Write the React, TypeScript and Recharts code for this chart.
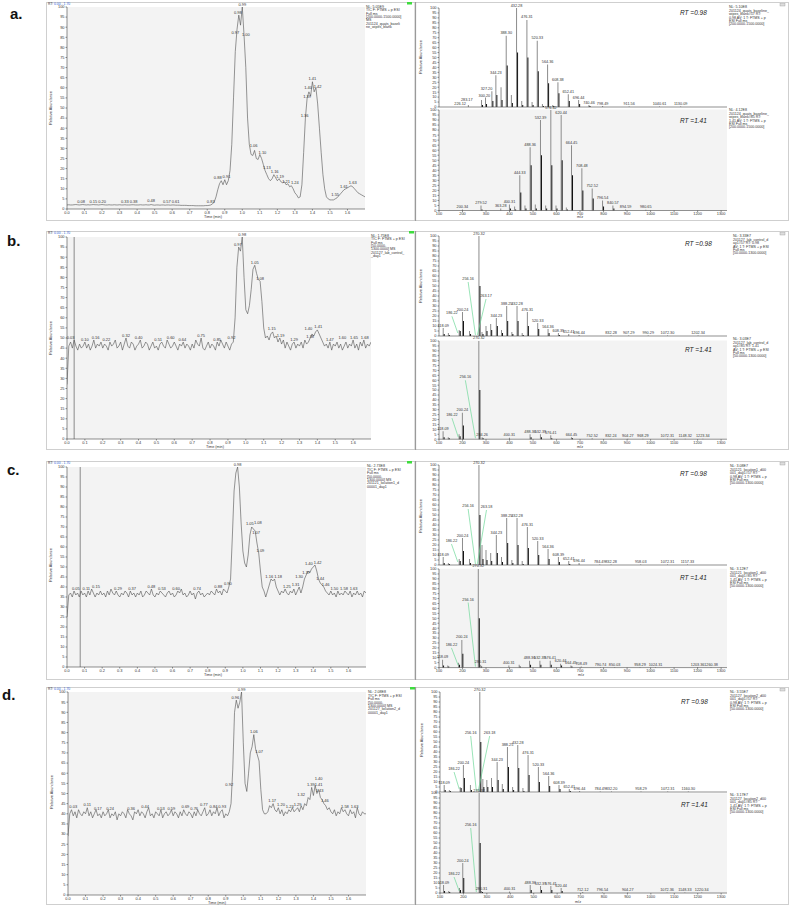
import React from 'react';
import { LineChart, ComposedChart, Line, Bar, XAxis, YAxis, ReferenceDot, ReferenceLine, LabelList } from 'recharts';

const FONT = '"Liberation Sans", Arial, sans-serif';
const STEP = 0.01;

// ---------- tick labels ----------
const X_TICKS = [0, 0.1, 0.2, 0.3, 0.4, 0.5, 0.6, 0.7, 0.8, 0.9, 1.0, 1.1, 1.2, 1.3, 1.4, 1.5, 1.6];
const PCT_TICKS = [0, 5, 10, 15, 20, 25, 30, 35, 40, 45, 50, 55, 60, 65, 70, 75, 80, 85, 90, 95, 100];
const MZ_TICKS = [100, 200, 300, 400, 500, 600, 700, 800, 900, 1000, 1100, 1200, 1300];

// ---------- chromatograms (relative abundance every 0.01 min) ----------
const chromA = [
  2.0, 2.1, 2.0, 2.0, 2.1, 2.2, 2.1, 2.0, 2.1, 2.2,
  2.1, 2.0, 2.1, 2.0, 2.1, 2.2, 2.1, 2.1, 2.0, 2.1,
  2.2, 2.1, 2.0, 2.0, 2.1, 2.0, 2.0, 2.1, 2.0, 2.0,
  2.1, 2.0, 2.0, 2.1, 2.0, 2.0, 2.0, 2.1, 2.1, 2.0,
  2.0, 2.0, 2.1, 2.0, 2.0, 2.1, 2.0, 2.0, 2.2, 2.0,
  1.9, 2.0, 2.0, 1.9, 2.0, 2.0, 1.9, 2.0, 2.0, 1.9,
  2.0, 2.0, 1.9, 1.9, 1.9, 1.8, 1.8, 1.8, 1.8, 1.7,
  1.7, 1.7, 1.7, 1.6, 1.6, 1.6, 1.6, 1.6, 1.6, 1.7,
  1.7, 1.8, 2.0, 2.5, 3.5, 6, 9.5, 12.5, 14, 12,
  14.5, 12, 14, 19, 32, 55, 78, 89, 96, 91,
  100, 86, 70, 45, 32, 27, 26.5, 29, 25, 24.5,
  27, 25, 22, 19, 17, 15, 14, 15, 17, 15.5,
  14, 15, 13.5, 13, 13.5, 12, 12.5, 11, 11.5, 10,
  8, 7, 5.5, 6, 12, 28, 45, 55, 58, 56,
  63, 58, 60, 52, 40, 28, 17, 10, 6, 5,
  4.5, 4.5, 4.5, 5, 5.5, 6.5, 7.5, 8.5, 9.5, 10,
  10.5, 11, 11.5, 11, 10, 9, 8, 7.5, 7, 6.5, 6,
];
const chromB = [
  27, 46, 48, 45, 49, 46, 44, 47, 45, 46,
  48, 45, 47, 44, 46, 49, 45, 47, 46, 48,
  45, 47, 46, 44, 48, 46, 47, 49, 45, 46,
  48, 44, 47, 50, 46, 45, 48, 47, 44, 46,
  47, 49, 45, 46, 48, 47, 44, 46, 48, 45,
  46, 44, 47, 48, 46, 45, 49, 47, 45, 46,
  48, 46, 44, 47, 46, 48, 45, 47, 46, 44,
  47, 45, 49, 47, 46, 50, 45, 44, 46, 48,
  45, 47, 46, 44, 48, 46, 49, 47, 45, 48,
  46, 44, 47, 48, 60, 85, 95, 93, 100, 80,
  64, 62, 66, 74, 84, 86, 82, 79, 78, 68,
  55, 50, 51, 49, 52, 53, 50, 51, 48, 50,
  47, 49, 45, 48, 46, 44, 47, 48, 45, 47,
  46, 48, 45, 49, 47, 48, 50, 52, 51, 53,
  54, 52, 50, 48, 46, 47, 45, 48, 44, 47,
  46, 48, 45, 47, 44, 46, 48, 45, 47, 46,
  49, 45, 47, 44, 48, 46, 49, 45, 47, 46, 48,
];
const chromC = [
  25, 36, 37, 35, 38, 36, 37, 35, 38, 36,
  37, 35, 38, 36, 39, 37, 35, 37, 36, 38,
  36, 37, 35, 38, 36, 39, 37, 36, 38, 36,
  35, 37, 36, 38, 37, 35, 38, 36, 37, 35,
  37, 36, 38, 35, 36, 38, 37, 36, 39, 36,
  35, 37, 36, 38, 37, 36, 35, 37, 38, 36,
  37, 35, 36, 38, 37, 39, 36, 37, 35, 36,
  38, 36, 37, 34, 37, 38, 36, 37, 35, 36,
  37, 36, 38, 37, 36, 39, 37, 38, 36, 39,
  38, 37, 40, 44, 65, 88, 97, 100, 90, 72,
  58, 52, 50, 56, 66, 70, 69, 68, 62, 57,
  48, 40, 38, 35, 38, 41, 44, 43, 44, 40,
  38, 36, 38, 37, 39, 37, 36, 38, 37, 39,
  36, 38, 40, 37, 40, 44, 46, 48, 47, 49,
  50, 51, 48, 44, 42, 41, 40, 38, 37, 36,
  38, 36, 37, 35, 38, 36, 37, 36, 38, 37,
  36, 38, 35, 37, 36, 38, 36, 37, 35, 38, 37,
];
const chromD = [
  29, 40, 42, 39, 41, 38, 42, 40, 39, 41,
  40, 43, 39, 41, 38, 40, 42, 39, 40, 38,
  41, 39, 40, 42, 38, 40, 39, 41, 37, 40,
  39, 41, 40, 38, 42, 40, 39, 37, 41, 40,
  42, 39, 41, 40, 38, 41, 43, 39, 40, 38,
  41, 40, 39, 42, 38, 40, 41, 39, 40, 42,
  39, 41, 40, 38, 41, 39, 42, 40, 39, 41,
  40, 38, 41, 39, 42, 40, 39, 41, 43, 39,
  40, 42, 39, 41, 40, 43, 39, 41, 42, 38,
  40, 39, 41, 45, 62, 90, 96, 92, 95, 100,
  75, 55, 51, 60, 70, 73, 79, 72, 69, 66,
  52, 42, 40, 40, 41, 44, 43, 45, 42, 41,
  43, 40, 42, 39, 41, 40, 42, 41, 43, 41,
  42, 43, 41, 44, 42, 45, 44, 48, 47, 53,
  49, 54, 50, 52, 48, 47, 45, 44, 42, 43,
  41, 40, 42, 39, 41, 40, 43, 41, 42, 40,
  39, 42, 40, 41, 38, 43, 40, 39, 41, 40, 40,
];

// peak labels: [time, abundance, text]
type Lab = [number, number, string];
const chromALabels: Lab[] = [
  [0.08, 2.3, '0.08'], [0.15, 2.3, '0.15'], [0.2, 2.3, '0.20'], [0.33, 2.3, '0.33'], [0.38, 2.3, '0.38'],
  [0.48, 2.5, '0.48'], [0.57, 2.3, '0.57'], [0.62, 2.2, '0.61'], [0.82, 2.3, '0.83'], [0.86, 14, '0.88'],
  [0.91, 14.5, '0.91'], [0.96, 86, '0.97'], [0.975, 96, '0.98'], [1.0, 100, '0.99'], [1.02, 85, '1.00'],
  [1.065, 30, '1.06'], [1.115, 26.5, '1.10'], [1.14, 19, '1.13'], [1.185, 17, '1.16'], [1.215, 14.5, '1.19'],
  [1.25, 12, '1.21'], [1.3, 11.5, '1.24'], [1.355, 45, '1.36'], [1.37, 54, '1.39'], [1.375, 58.5, '1.40'],
  [1.4, 63, '1.41'], [1.43, 59, '1.42'], [1.53, 5.5, '1.55'], [1.58, 9.5, '1.61'], [1.63, 11.5, '1.63'],
];
const chromBLabels: Lab[] = [
  [0.02, 49, '0.03'], [0.1, 48, '0.10'], [0.16, 49, '0.16'], [0.22, 48, '0.22'], [0.33, 50, '0.32'],
  [0.4, 49, '0.40'], [0.51, 48, '0.51'], [0.58, 49, '0.60'], [0.645, 48, '0.64'], [0.75, 50, '0.75'],
  [0.84, 48, '0.85'], [0.92, 49, '0.92'], [0.955, 95, '0.97'], [0.98, 100, '0.98'], [1.05, 86, '1.05'],
  [1.08, 78, '1.08'], [1.145, 53, '1.15'], [1.195, 50, '1.19'], [1.27, 48, '1.29'], [1.35, 53, '1.40'],
  [1.36, 49.5, '1.38'], [1.405, 54, '1.41'], [1.47, 48, '1.47'], [1.54, 49, '1.60'], [1.605, 49, '1.65'], [1.665, 49, '1.68'],
];
const chromCLabels: Lab[] = [
  [0.05, 38, '0.05'], [0.11, 38, '0.11'], [0.165, 39, '0.15'], [0.29, 38, '0.29'], [0.37, 38, '0.37'],
  [0.48, 39, '0.48'], [0.54, 38, '0.53'], [0.62, 38, '0.60'], [0.74, 38, '0.74'], [0.86, 39, '0.88'],
  [0.915, 40.5, '0.90'], [0.97, 100, '0.98'], [1.04, 70.5, '1.05'], [1.085, 71, '1.08'], [1.075, 66, '1.07'],
  [1.1, 57, '1.09'], [1.15, 44, '1.16'], [1.2, 44, '1.18'], [1.25, 39, '1.25'], [1.3, 40, '1.31'],
  [1.32, 44, '1.30'], [1.36, 46, '1.37'], [1.375, 50.5, '1.40'], [1.425, 51, '1.42'], [1.44, 43, '1.44'],
  [1.47, 40, '1.46'], [1.52, 38, '1.50'], [1.575, 38, '1.58'], [1.63, 38, '1.63'],
];
const chromDLabels: Lab[] = [
  [0.03, 42, '0.03'], [0.11, 43, '0.11'], [0.17, 41, '0.17'], [0.24, 41, '0.24'], [0.36, 41, '0.36'],
  [0.44, 42, '0.44'], [0.53, 41, '0.53'], [0.59, 41, '0.59'], [0.67, 42, '0.69'], [0.72, 41, '0.76'],
  [0.775, 43, '0.77'], [0.83, 42, '0.84'], [0.88, 42, '0.93'], [0.92, 53, '0.92'], [0.955, 96, '0.96'],
  [0.99, 100, '0.99'], [1.06, 79, '1.06'], [1.09, 69, '1.07'], [1.165, 45, '1.17'], [1.215, 43, '1.20'],
  [1.265, 42, '1.23'], [1.31, 43, '1.29'], [1.33, 48, '1.32'], [1.385, 53, '1.39'], [1.43, 56, '1.40'],
  [1.43, 53, '1.41'], [1.435, 50, '1.43'], [1.465, 45, '1.46'], [1.58, 42, '1.58'], [1.635, 42, '1.63'],
];

// ---------- mass spectra ----------
// row a, RT 0.98
const aTopMz = [227, 283, 300, 327, 344, 366, 388, 410, 432, 454, 476, 498, 520, 542, 564, 586, 608, 652, 696, 740, 798, 911, 1040, 1130];
const aTopInt = [2, 7, 9.5, 16, 32, 20, 72, 12, 100, 6, 88, 5, 67, 3, 43, 2, 25, 13, 7, 2, 1, 0.6, 0.5, 0.5];
const aTopIso = [0, 2, 3, 6, 12, 7, 42, 4, 55, 2, 50, 2, 36, 1, 24, 1, 14, 6, 3, 1, 0, 0, 0, 0];
const aTopLbl = ['', '', '', '', '344.23', '', '388.30', '', '432.28', '', '476.31', '', '520.33', '', '564.36', '', '608.38', '652.41', '696.44', '740.46', '798.49', '911.56', '1040.61', '1130.09'];
// row a, RT 1.41
const aBotMz = [200, 279, 363, 400, 422, 444, 466, 488, 510, 532, 554, 576, 598, 620, 642, 664, 708, 752, 796, 840, 894, 980];
const aBotInt = [1, 5, 2, 6, 4, 35, 5, 63, 6, 90, 5, 100, 5, 95, 3, 65, 42, 22, 10, 5, 1, 0.7];
const aBotIso = [0, 1, 0, 2, 1, 18, 2, 45, 2, 55, 2, 45, 2, 50, 1, 35, 20, 12, 4, 2, 0, 0];
const aBotLbl = ['200.34', '279.52', '363.28', '400.31', '', '444.33', '', '488.36', '', '532.39', '', '576.42', '', '620.44', '', '664.45', '708.48', '752.52', '796.54', '840.57', '894.59', '980.65'];

// row b
const bTopMz = [118, 140, 186, 200, 230, 270, 283, 300, 320, 344, 366, 388, 410, 432, 454, 476, 520, 564, 608, 652, 696, 832, 907, 990, 1072, 1202];
const bTopInt = [8, 3, 6, 24, 5, 100, 4, 10, 12, 18, 6, 30, 4, 30, 3, 24, 13, 7, 3, 2, 1, 0.5, 0.5, 0.5, 0.5, 0.5];
const bTopIso = [2, 1, 5, 15, 2, 50, 2, 5, 6, 10, 3, 15, 2, 15, 1, 10, 7, 3, 1, 0, 0, 0, 0, 0, 0, 0];
const bTopLbl = ['118.09', '', '', '200.24', '', '270.32', '', '', '', '344.23', '', '388.25', '', '432.28', '', '476.31', '520.33', '564.36', '608.39', '652.41', '696.44', '832.28', '907.29', '990.29', '1072.30', '1202.34'];
const bBotMz = [118, 140, 186, 200, 270, 284, 400, 488, 532, 576, 664, 752, 832, 904, 968, 1072, 1148, 1223];
const bBotInt = [8, 2, 5, 27, 100, 2, 1.5, 5, 5, 4, 2, 1, 0.5, 0.5, 0.5, 0.5, 0.5, 0.5];
const bBotIso = [2, 1, 3, 14, 50, 1, 0, 2, 2, 1, 1, 0, 0, 0, 0, 0, 0, 0];
const bBotLbl = ['118.09', '', '', '200.24', '270.32', '284.26', '400.31', '488.36', '532.39', '576.41', '664.45', '752.52', '832.24', '904.27', '968.29', '1072.31', '1148.32', '1223.34'];

// row c
const cTopMz = [118, 140, 186, 200, 230, 270, 283, 300, 320, 344, 366, 388, 410, 432, 454, 476, 520, 564, 608, 652, 696, 784, 832, 958, 1072, 1157];
const cTopInt = [8, 2, 6, 27, 6, 100, 20, 15, 12, 30, 8, 47, 5, 47, 4, 38, 24, 16, 8, 4, 2, 0.5, 0.5, 0.5, 0.5, 0.5];
const cTopIso = [2, 1, 4, 14, 2, 50, 6, 5, 4, 12, 3, 22, 2, 20, 1, 17, 10, 6, 3, 1, 0, 0, 0, 0, 0, 0];
const cTopLbl = ['118.09', '', '', '200.24', '', '270.32', '', '', '', '344.23', '', '388.25', '', '432.28', '', '476.31', '520.33', '564.36', '608.39', '652.41', '696.44', '784.49', '832.28', '958.03', '1072.31', '1157.33'];
const cBotMz = [118, 140, 186, 200, 270, 280, 400, 444, 488, 532, 576, 620, 664, 708, 790, 850, 958, 1024, 1203, 1260];
const cBotInt = [8, 2, 5, 28, 100, 3, 2, 3, 7, 7, 7, 4, 2, 1, 0.5, 0.5, 0.5, 0.5, 0.5, 0.5];
const cBotIso = [2, 1, 3, 14, 50, 1, 0, 1, 3, 3, 3, 2, 1, 0, 0, 0, 0, 0, 0, 0];
const cBotLbl = ['118.09', '', '', '200.24', '270.32', '280.31', '400.31', '', '488.36', '532.39', '576.41', '620.44', '664.45', '708.49', '790.74', '850.03', '958.29', '1024.31', '1203.36', '1260.38'];

// row d
const dTopMz = [118, 140, 186, 200, 230, 270, 283, 300, 320, 344, 366, 388, 410, 432, 454, 476, 520, 564, 608, 652, 696, 784, 832, 958, 1072, 1160];
const dTopInt = [7, 2, 5, 27, 7, 100, 13, 12, 14, 30, 8, 45, 5, 47, 4, 37, 25, 16, 7, 3, 1, 0.5, 0.5, 0.5, 0.5, 0.5];
const dTopIso = [2, 1, 4, 14, 2, 50, 5, 5, 5, 12, 3, 25, 2, 24, 1, 17, 10, 6, 3, 1, 0, 0, 0, 0, 0, 0];
const dTopLbl = ['118.09', '', '', '200.24', '', '270.32', '', '', '', '344.23', '', '388.25', '', '432.28', '', '476.31', '520.33', '564.36', '608.39', '652.41', '696.44', '784.49', '832.20', '958.29', '1072.31', '1160.30'];
const dBotMz = [118, 140, 186, 200, 270, 280, 400, 488, 532, 576, 620, 712, 796, 904, 1072, 1148, 1220];
const dBotInt = [8, 2, 5, 30, 100, 2, 1.5, 8, 7, 7, 5, 1, 0.5, 0.5, 0.5, 0.5, 0.5];
const dBotIso = [2, 1, 3, 15, 50, 1, 0, 3, 3, 3, 2, 0, 0, 0, 0, 0, 0];
const dBotLbl = ['118.09', '', '', '200.24', '270.32', '280.31', '400.31', '488.36', '532.39', '576.41', '620.44', '712.12', '796.54', '904.27', '1072.36', '1148.33', '1220.34'];

// annotations placed away from their peak: [peak m/z, peak %, label m/z, label %, text, leader line?]
type Call = [number, number, number, number, string, boolean];
const aTopCalls: Call[] = [
  [227, 2, 190, 1.5, '226.12', false], [283, 7, 218, 5, '283.17', false],
  [300, 9.5, 293, 9.5, '300.20', false], [327, 16, 302, 16.5, '327.20', false],
];
const bTopCalls: Call[] = [[180, 3, 155, 20.7, '186.22', true], [255, 1, 224, 55, '256.16', true], [263, 1, 300, 38, '263.17', true]];
const bBotCalls: Call[] = [[182, 2, 155, 22.5, '186.22', true], [255, 1, 212, 61, '256.16', true]];
const cTopCalls: Call[] = [[180, 3, 153, 22, '186.22', true], [255, 1, 224, 57, '256.16', true], [263, 1, 302, 56, '263.18', true]];
const cBotCalls: Call[] = [[182, 2, 153, 21, '186.22', true], [255, 1, 224, 67, '256.16', true]];
const dTopCalls: Call[] = [[182, 3, 160, 21, '186.22', true], [255, 1, 231, 57, '256.16', true], [263, 1, 312, 57, '263.18', true]];
const dBotCalls: Call[] = [[182, 2, 160, 17, '186.22', true], [255, 1, 231, 66, '256.16', true]];

// legends
const chromLegA = ['NL: 5.05E9', 'TIC F: FTMS + p ESI', 'Full ms', '[200.0000-1500.0000]', 'MS', '201124_quats_baseli', 'ne_wipes_blank'];
const chromLegB = ['NL: 1.75E8', 'TIC F: FTMS + p ESI', 'Full ms', '[50.0000-', '1300.0000] MS', '201127_lab_control_', '_day1'];
const chromLegC = ['NL: 2.73E8', 'TIC F: FTMS + p ESI', 'Full ms', '[50.0000-', '1300.0000] MS', '201121_location1_d', '00001_day1'];
const chromLegD = ['NL: 2.08E8', 'TIC F: FTMS + p ESI', 'Full ms', '[50.0000-', '1300.0000] MS', '201127_location2_d', '00001_day1'];
const specLegA1 = ['NL: 5.10E8', '201124_quats_baseline_', 'wipes_blank#57 RT:', '0.98 AV: 1 T: FTMS + p', 'ESI Full ms', '[200.0000-1500.0000]'];
const specLegA2 = ['NL: 4.12E8', '201124_quats_baseline_', 'wipes_blank#85 RT:', '1.41 AV: 1 T: FTMS + p', 'ESI Full ms', '[200.0000-1500.0000]'];
const specLegB1 = ['NL: 3.33E7', '201127_lab_control_d', 'ay1#57 RT: 0.98', 'AV: 1 T: FTMS + p ESI', 'Full ms', '[50.0000-1300.0000]'];
const specLegB2 = ['NL: 3.03E7', '201127_lab_control_d', 'ay1#85 RT: 1.41', 'AV: 1 T: FTMS + p ESI', 'Full ms', '[50.0000-1300.0000]'];
const specLegC1 = ['NL: 3.08E7', '201121_location1_d00', '001_day1#57 RT:', '0.98 AV: 1 T: FTMS + p', 'ESI Full ms', '[50.0000-1300.0000]'];
const specLegC2 = ['NL: 3.12E7', '201121_location1_d00', '001_day1#85 RT:', '1.41 AV: 1 T: FTMS + p', 'ESI Full ms', '[50.0000-1300.0000]'];
const specLegD1 = ['NL: 3.55E7', '201127_location2_d00', '001_day1#57 RT:', '0.98 AV: 1 T: FTMS + p', 'ESI Full ms', '[50.0000-1300.0000]'];
const specLegD2 = ['NL: 3.17E7', '201127_location2_d00', '001_day1#85 RT:', '1.41 AV: 1 T: FTMS + p', 'ESI Full ms', '[50.0000-1300.0000]'];

// ---------- layout ----------
type Box = [number, number, number, number];
interface Spec { mz: number[]; int: number[]; iso: number[]; lbl: string[]; calls: Call[] }
interface RowCfg {
  tag: string; tagPos: [number, number]; top: number; bottom: number;
  chrom: number[]; chromLabels: Lab[]; chromBox: Box; chromLeg: string[]; legPos: [number, number]; marker?: number;
  top1: Spec; bot1: Spec;
  sTop: Box; sBot: Box; rt1: [number, number]; rt2: [number, number];
  leg1: string[]; leg2: string[]; leg1Pos: [number, number]; leg2Pos: [number, number];
  timePos: [number, number]; mzPos: [number, number]; raChrom: [number, number]; raSpec: [number, number]; green: [number, number];
}

const ROWS: RowCfg[] = [
  {
    tag: 'a.', tagPos: [10, 19], top: 2, bottom: 220,
    chrom: chromA, chromLabels: chromALabels, chromBox: [67, 7, 365, 209], chromLeg: chromLegA, legPos: [366, 5],
    top1: { mz: aTopMz, int: aTopInt, iso: aTopIso, lbl: aTopLbl, calls: aTopCalls },
    bot1: { mz: aBotMz, int: aBotInt, iso: aBotIso, lbl: aBotLbl, calls: [] },
    sTop: [439, 7.5, 727, 106.5], sBot: [439, 109.5, 727, 210], rt1: [680, 15], rt2: [680, 122.5],
    leg1: specLegA1, leg2: specLegA2, leg1Pos: [729, 5.5], leg2Pos: [729, 108.5],
    timePos: [213, 218], mzPos: [580, 218], raChrom: [52, 108], raSpec: [422, 57], green: [407, 2],
  },
  {
    tag: 'b.', tagPos: [7, 246], top: 231, bottom: 449,
    chrom: chromB, chromLabels: chromBLabels, chromBox: [67, 237, 371, 439], chromLeg: chromLegB, legPos: [371, 234],
    marker: 0.04,
    top1: { mz: bTopMz, int: bTopInt, iso: bTopIso, lbl: bTopLbl, calls: bTopCalls },
    bot1: { mz: bBotMz, int: bBotInt, iso: bBotIso, lbl: bBotLbl, calls: bBotCalls },
    sTop: [439, 235.5, 727, 335.5], sBot: [439, 340.5, 727, 438.7], rt1: [685, 245.5], rt2: [685, 351.5],
    leg1: specLegB1, leg2: specLegB2, leg1Pos: [733, 234.5], leg2Pos: [733, 337.5],
    timePos: [215, 448], mzPos: [580, 448], raChrom: [52, 338], raSpec: [422, 286], green: [409, 231],
  },
  {
    tag: 'c.', tagPos: [7, 475], top: 461, bottom: 679,
    chrom: chromC, chromLabels: chromCLabels, chromBox: [67, 467, 366, 667], chromLeg: chromLegC, legPos: [367, 464.5],
    marker: 0.075,
    top1: { mz: cTopMz, int: cTopInt, iso: cTopIso, lbl: cTopLbl, calls: cTopCalls },
    bot1: { mz: cBotMz, int: cBotInt, iso: cBotIso, lbl: cBotLbl, calls: cBotCalls },
    sTop: [439, 465.3, 727, 565.3], sBot: [439, 568.7, 727, 667.3], rt1: [680, 475.5], rt2: [680, 579.5],
    leg1: specLegC1, leg2: specLegC2, leg1Pos: [730, 464.5], leg2Pos: [730, 567.5],
    timePos: [213, 676], mzPos: [581, 676], raChrom: [52, 565], raSpec: [422, 516], green: [407, 461],
  },
  {
    tag: 'd.', tagPos: [2, 700], top: 687, bottom: 904,
    chrom: chromD, chromLabels: chromDLabels, chromBox: [68, 692, 366, 895], chromLeg: chromLegD, legPos: [368, 690.5],
    top1: { mz: dTopMz, int: dTopInt, iso: dTopIso, lbl: dTopLbl, calls: dTopCalls },
    bot1: { mz: dBotMz, int: dBotInt, iso: dBotIso, lbl: dBotLbl, calls: dBotCalls },
    sTop: [440, 692, 727, 792], sBot: [440, 793.3, 727, 893.3], rt1: [681, 703.5], rt2: [681, 806.5],
    leg1: specLegD1, leg2: specLegD2, leg1Pos: [730, 690.5], leg2Pos: [730, 793.5],
    timePos: [217, 904], mzPos: [578, 903], raChrom: [53, 792], raSpec: [423, 740], green: [410, 687],
  },
];

const TICK_FS = 3.9;
const CHROM_FS = 4.0;
const SPEC_FS = 3.8;
const tickStyle = { fontSize: TICK_FS, fill: '#333', fontFamily: FONT };
const axisStroke = { stroke: '#444', strokeWidth: 0.6 };

function Chrom({ vals, labels, box, marker }: { vals: number[]; labels: Lab[]; box: Box; marker?: number }) {
  const [x0, y0, x1, y1] = box;
  const yW = 16, xH = 7, mT = 6;
  const data = vals.map((v, i) => ({ t: i * STEP, v }));
  return (
    <div style={{ position: 'absolute', left: x0 - yW, top: y0 - mT }}>
      <LineChart width={x1 - x0 + yW + 4} height={y1 - y0 + mT + xH} data={data} margin={{ top: mT, right: 4, bottom: 0, left: 0 }}>
        <XAxis dataKey="t" type="number" domain={[0, 1.7]} ticks={X_TICKS} interval={0} allowDataOverflow
          tickFormatter={(v: number) => v.toFixed(1)} tick={tickStyle} tickSize={1.5} tickMargin={0.5} height={xH}
          axisLine={axisStroke} tickLine={axisStroke} />
        <YAxis type="number" domain={[0, 100]} ticks={PCT_TICKS} interval={0} width={yW}
          tick={tickStyle} tickSize={1.5} tickMargin={1} axisLine={axisStroke} tickLine={axisStroke} />
        {marker !== undefined && <ReferenceLine x={marker} stroke="#8a8a8a" strokeWidth={1} />}
        <Line dataKey="v" type="linear" stroke="#505050" strokeWidth={0.6} dot={false} isAnimationActive={false} />
        {labels.map(([t, v, s], i) => (
          <ReferenceDot key={i} x={t} y={v} r={0} stroke="none" fill="none"
            label={{ value: s, position: 'top', offset: 1.5, fontSize: CHROM_FS, fill: '#333', fontFamily: FONT }} />
        ))}
      </LineChart>
    </div>
  );
}

function Spectrum({ spec, box, showX }: { spec: Spec; box: Box; showX: boolean }) {
  const [x0, y0, x1, y1] = box;
  const yW = 14, xH = showX ? 7 : 1, mT = 6;
  const data = spec.mz.map((m, i) => ({ mz: m, main: spec.int[i], iso: spec.iso[i], lbl: spec.lbl[i] ? spec.lbl[i] : undefined }));
  return (
    <div style={{ position: 'absolute', left: x0 - yW, top: y0 - mT }}>
      <ComposedChart width={x1 - x0 + yW + 2} height={y1 - y0 + mT + xH} data={data} barGap={0}
        margin={{ top: mT, right: 2, bottom: 0, left: 0 }}>
        <XAxis dataKey="mz" type="number" domain={[100, 1325]} ticks={MZ_TICKS} interval={0} allowDataOverflow
          tick={showX ? tickStyle : false} tickSize={showX ? 1.5 : 0} tickMargin={0.5} height={xH}
          axisLine={axisStroke} tickLine={showX ? axisStroke : false} />
        <YAxis type="number" domain={[0, 100]} ticks={PCT_TICKS} interval={0} width={yW}
          tick={tickStyle} tickSize={1.5} tickMargin={1} axisLine={axisStroke} tickLine={axisStroke} />
        <Bar dataKey="main" fill="#8c8c8c" barSize={1} isAnimationActive={false}>
          <LabelList dataKey="lbl" position="top" offset={1.5} fontSize={SPEC_FS} fill="#333" fontFamily={FONT} />
        </Bar>
        <Bar dataKey="iso" fill="#111" barSize={1} isAnimationActive={false} />
        {spec.calls.filter((c) => c[5]).map(([pm, pv, lm, lv], i) => (
          <ReferenceLine key={'l' + i} segment={[{ x: pm, y: pv }, { x: lm, y: lv - 1 }]} stroke="#6fd99a" strokeWidth={0.7} ifOverflow="visible" />
        ))}
        {spec.calls.map(([, , lm, lv, s], i) => (
          <ReferenceDot key={'d' + i} x={lm} y={lv} r={0} stroke="none" fill="none"
            label={{ value: s, position: 'top', offset: 1, fontSize: SPEC_FS, fill: '#333', fontFamily: FONT }} />
        ))}
      </ComposedChart>
    </div>
  );
}

function TextLines({ lines, x, y, size = 3.6, gap = 3.4 }: { lines: string[]; x: number; y: number; size?: number; gap?: number }) {
  return (
    <text x={x} y={y} fontSize={size} fill="#333" fontFamily={FONT}>
      {lines.map((l, i) => (
        <tspan key={i} x={x} dy={i === 0 ? size * 0.8 : gap}>{l}</tspan>
      ))}
    </text>
  );
}

function Overlay() {
  return (
    <svg width={789} height={905} style={{ position: 'absolute', left: 0, top: 0 }}>
      <rect x={0} y={0} width={789} height={905} fill="#fff" />
      {ROWS.map((r) => {
        const [cx0, cy0, cx1, cy1] = r.chromBox;
        return (
          <g key={r.tag}>
            <text x={r.tagPos[0]} y={r.tagPos[1]} fontSize={15} fontWeight="bold" fontFamily={FONT} fill="#111">{r.tag}</text>
            <rect x={46.5} y={r.top + 0.5} width={368.5} height={r.bottom - r.top} fill="#fff" stroke="#cfcfcf" strokeWidth={1} />
            <rect x={cx0} y={cy0} width={cx1 - cx0} height={cy1 - cy0} fill="#f3f3f3" />
            <text x={48} y={r.top + 3.2} fontSize={3.4} fontFamily={FONT} fill="#333">RT:
              <tspan fill="#2f5fd6"> 0.00 - 1.70</tspan>
            </text>
            <TextLines lines={r.chromLeg} x={r.legPos[0]} y={r.legPos[1]} />
            <text x={r.raChrom[0]} y={r.raChrom[1]} fontSize={3.8} fontFamily={FONT} fill="#333" textAnchor="middle"
              transform={`rotate(-90 ${r.raChrom[0]} ${r.raChrom[1]})`}>Relative Abundance</text>
            <text x={r.timePos[0]} y={r.timePos[1]} fontSize={3.8} fontFamily={FONT} fill="#333" textAnchor="middle">Time (min)</text>
            <rect x={r.green[0]} y={r.green[1]} width={5} height={2.5} fill="#3ddc3d" />
            {/* right panel */}
            <rect x={415.5} y={r.top + 0.5} width={373} height={r.bottom - r.top} fill="#fff" stroke="#cfcfcf" strokeWidth={1} />
            <line x1={415.5} y1={r.top} x2={415.5} y2={r.bottom + 1} stroke="#9a9a9a" strokeWidth={1.2} />
            <rect x={r.sBot[0]} y={r.sBot[1]} width={r.sBot[2] - r.sBot[0]} height={r.sBot[3] - r.sBot[1]} fill="#f3f3f3" />
            <rect x={780} y={r.top + 1.5} width={5} height={2.5} fill="#ddd" stroke="#999" strokeWidth={0.4} />
            <TextLines lines={r.leg1} x={r.leg1Pos[0]} y={r.leg1Pos[1]} />
            <TextLines lines={r.leg2} x={r.leg2Pos[0]} y={r.leg2Pos[1]} />
            <text x={r.rt1[0]} y={r.rt1[1]} fontSize={6.5} fontStyle="italic" fontFamily={FONT} fill="#222">RT =0.98</text>
            <text x={r.rt2[0]} y={r.rt2[1]} fontSize={6.5} fontStyle="italic" fontFamily={FONT} fill="#222">RT =1.41</text>
            <text x={r.raSpec[0]} y={r.raSpec[1]} fontSize={3.8} fontFamily={FONT} fill="#333" textAnchor="middle"
              transform={`rotate(-90 ${r.raSpec[0]} ${r.raSpec[1]})`}>Relative Abundance</text>
            <text x={r.mzPos[0]} y={r.mzPos[1]} fontSize={3.8} fontFamily={FONT} fill="#333" textAnchor="middle">m/z</text>
          </g>
        );
      })}
    </svg>
  );
}

export default function App() {
  return (
    <div style={{ position: 'absolute', left: 0, top: 0, width: 789, height: 905, overflow: 'hidden', background: '#fff', fontFamily: FONT }}>
      <Overlay />
      {ROWS.map((r) => (
        <React.Fragment key={r.tag}>
          <Chrom vals={r.chrom} labels={r.chromLabels} box={r.chromBox} marker={r.marker} />
          <Spectrum spec={r.top1} box={r.sTop} showX={false} />
          <Spectrum spec={r.bot1} box={r.sBot} showX={true} />
        </React.Fragment>
      ))}
    </div>
  );
}
